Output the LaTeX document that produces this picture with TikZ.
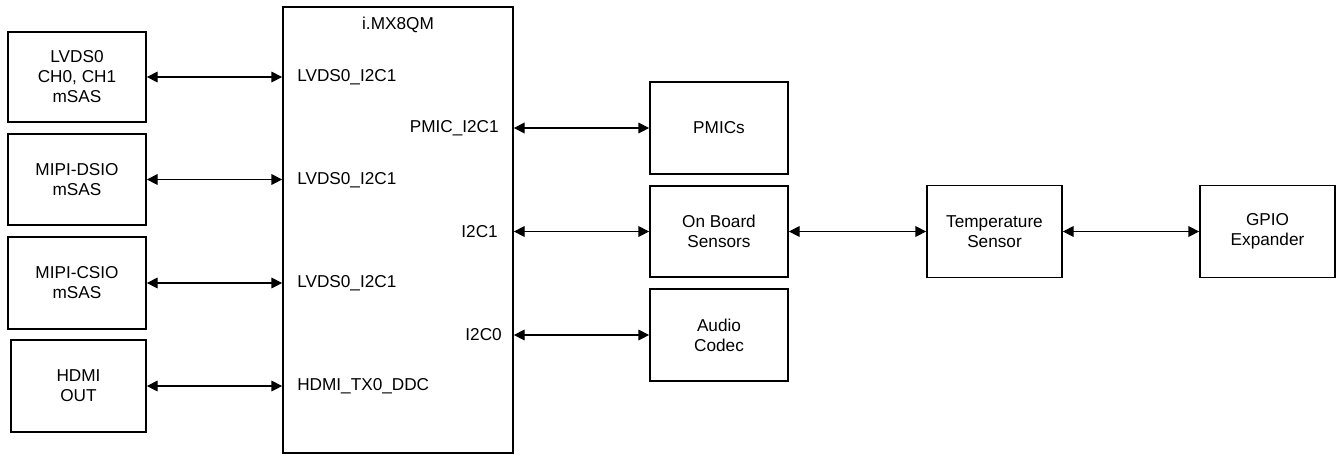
\documentclass[tikz,border=0pt]{standalone}
\usepackage{fontspec}
\setmainfont{Liberation Sans}
\usetikzlibrary{arrows.meta}
\begin{document}
\begin{tikzpicture}[x=0.75pt,y=-0.75pt,
  every node/.style={font=\fontsize{12.9pt}{15pt}\selectfont},
  box/.style={draw, line width=1.3pt, inner sep=0pt, align=center},
  biarrow/.style={line width=0.8pt, {Triangle[length=8pt,width=8pt]}-{Triangle[length=8pt,width=8pt]}},
  lbl/.style={inner sep=0pt}]
\useasboundingbox (0,0) rectangle (1336,455);
% left boxes
\node[box, minimum width=138*0.75pt, minimum height=90*0.75pt] (b1) at (77,77) {LVDS0\\CH0, CH1\\mSAS};
\node[box, minimum width=138*0.75pt, minimum height=91*0.75pt] (b2) at (77,179.5) {MIPI-DSIO\\mSAS};
\node[box, minimum width=138*0.75pt, minimum height=92*0.75pt] (b3) at (77,283) {MIPI-CSIO\\mSAS};
\node[box, minimum width=135*0.75pt, minimum height=92*0.75pt] (b4) at (78.5,386) {HDMI\\OUT};
% main
\node[box, minimum width=230*0.75pt, minimum height=446*0.75pt] (main) at (398,230) {};
\node[lbl] (title) at (398,25) {i.MX8QM};
\node[lbl, anchor=west] (l1) at (297,77) {LVDS0\_I2C1};
\node[lbl, anchor=west] (l2) at (297,180) {LVDS0\_I2C1};
\node[lbl, anchor=west] (l3) at (297,283) {LVDS0\_I2C1};
\node[lbl, anchor=west] (l4) at (297,386) {HDMI\_TX0\_DDC};
\node[lbl, anchor=east] (r1) at (499,128) {PMIC\_I2C1};
\node[lbl, anchor=east] (r2) at (498,232) {I2C1};
\node[lbl, anchor=east] (r3) at (502,335) {I2C0};
% right boxes
\node[box, minimum width=138*0.75pt, minimum height=92*0.75pt] (pmic) at (719,128) {PMICs};
\node[box, minimum width=138*0.75pt, minimum height=91*0.75pt] (onb) at (719,231.5) {On Board\\Sensors};
\node[box, minimum width=138*0.75pt, minimum height=92*0.75pt] (aud) at (719,335) {Audio\\Codec};
\node[box, minimum width=135*0.75pt, minimum height=92*0.75pt] (temp) at (994.5,231.5) {Temperature\\Sensor};
\node[box, minimum width=135*0.75pt, minimum height=92*0.75pt] (gpio) at (1267.5,231.5) {GPIO\\Expander};
% connectors
\draw[biarrow] (b1.east) -- (main.west |- b1.east);
\draw[biarrow] (b2.east) -- (main.west |- b2.east);
\draw[biarrow] (b3.east) -- (main.west |- b3.east);
\draw[biarrow] (b4.east) -- (main.west |- b4.east);
\draw[biarrow] (main.east |- pmic.west) -- (pmic.west);
\draw[biarrow] (main.east |- onb.west) -- (onb.west);
\draw[biarrow] (main.east |- aud.west) -- (aud.west);
\draw[biarrow] (onb.east) -- (onb.east -| temp.west);
\draw[biarrow] (temp.east) -- (temp.east -| gpio.west);
\end{tikzpicture}
\end{document}
